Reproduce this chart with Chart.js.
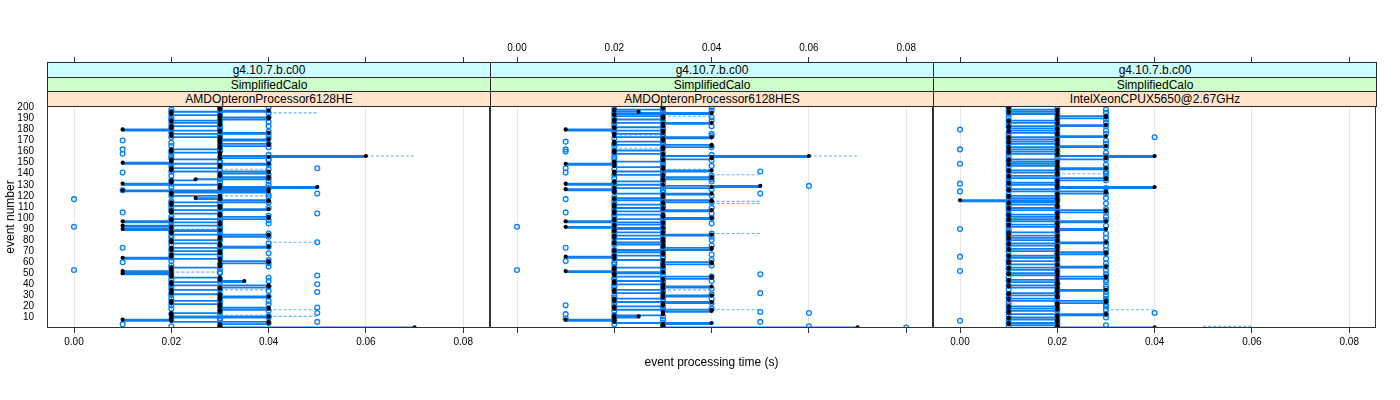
<!DOCTYPE html>
<html>
<head>
<meta charset="utf-8">
<script src="https://cdn.jsdelivr.net/npm/chart.js@4.4.1/dist/chart.umd.min.js"></script>
<style>
  body { margin: 0; background: #fff; width: 1400px; height: 400px; position: relative; overflow: hidden;
         font-family: 'Liberation Sans', Arial, sans-serif; }
  canvas { position: absolute; left: 0; top: 0; }
  .strip { position: absolute; box-sizing: border-box; border: 1px solid #2a2a2a; text-align: center;
           font-size: 12px; line-height: 14px; color: #000; white-space: nowrap; overflow: hidden; z-index: 5; }
  .s1 { background: #ccffff; }
  .s2 { background: #ccffcc; }
  .s3 { background: #ffe5cc; }
  #xtitle { position: absolute; left: 47px; width: 1329px; top: 355px; text-align: center; font-size: 12px; }
  #ytitle { position: absolute; left: -40px; top: 210px; width: 100px; text-align: center; font-size: 12px;
            transform: rotate(-90deg); }
</style>
</head>
<body>
<canvas id="p1" width="1400" height="400"></canvas>
<canvas id="p2" width="1400" height="400"></canvas>
<canvas id="p3" width="1400" height="400"></canvas>
<div id="xtitle">event processing time (s)</div>
<div id="ytitle">event number</div>
<script>
// tick labels
const xTicks = [0, 0.02, 0.04, 0.06, 0.08];
const yTicks = [10, 20, 30, 40, 50, 60, 70, 80, 90, 100, 110, 120, 130, 140, 150, 160, 170, 180, 190, 200];
const stripTop = 'g4.10.7.b.c00';
const stripMid = 'SimplifiedCalo';
const machines = ['AMDOpteronProcessor6128HE', 'AMDOpteronProcessor6128HES', 'IntelXeonCPUX5650@2.67GHz'];

// event times in ms, events 1..200 (black = first run with its step line, blue = second run)
const blackHE = [
  70,30,30,30,40,40,20,10,20,20, 40,20,20,20,30,30,30,40,40,30,
  30,30,20,20,20,30,30,30,40,30, 30,20,20,20,20,30,30,40,40,20,
  20,20,35,30,30,30,20,20,20,10, 20,10,20,20,20,30,30,30,30,40,
  40,30,30,10,20,20,20,30,30,30, 20,20,20,40,30,30,30,20,20,20,
  30,30,30,40,40,20,20,20,30,10, 20,20,10,30,30,30,10,20,20,40,
  40,30,30,30,20,20,20,40,30,30, 30,20,20,20,40,40,30,25,30,30,
  20,20,20,40,10,40,30,50,30,30, 10,20,20,20,25,40,40,30,30,30,
  40,40,20,20,20,30,30,30,40,10, 20,20,20,30,40,60,30,30,30,20,
  20,20,30,30,30,40,40,30,30,30, 40,30,30,20,20,20,40,30,30,10,
  20,20,20,30,30,30,20,20,30,40, 40,30,30,20,20,20,40,30,30,30
];
const blueHE = [
  30,20,30,10,40,50,30,20,30,40, 40,30,20,50,30,40,30,20,50,30,
  20,40,30,20,40,30,20,30,40,20, 30,20,50,40,30,20,30,40,20,50,
  20,30,40,20,30,40,20,50,20,30, 30,20,0,30,20,40,20,30,40,10,
  20,40,30,20,30,20,30,40,20,30, 30,20,10,40,30,20,40,50,20,30,
  30,20,40,20,30,40,20,30,20,30, 30,0,20,30,40,20,30,40,20,30,
  20,40,30,50,10,20,30,20,40,30, 20,30,20,40,20,30,0,30,40,20,
  40,50,30,20,10,30,40,20,30,40, 20,30,40,20,30,40,30,20,40,30,
  10,20,30,40,50,20,30,40,20,30, 30,40,40,20,30,20,40,10,20,30,
  20,10,30,40,20,30,40,20,30,10, 30,40,20,30,40,30,20,40,30,20,
  30,20,40,30,20,30,40,20,30,20, 40,30,20,30,40,20,30,20,30,40
];
// dashed segments: [event, from ms, to ms]
const dashHE = [[1,70,80],[11,40,50],[12,30,40],[17,40,50],[35,30,40],[51,20,30],[78,40,50],
  [90,20,30],[120,30,40],[144,30,40],[156,60,70],[162,20,30],[176,30,40],[191,30,40],[195,40,50]];

const blackHES = [
  70,30,30,30,40,20,20,10,20,20, 25,20,30,30,30,40,40,20,20,20,
  30,30,30,40,20,20,20,30,30,40, 30,30,20,20,20,30,30,40,30,30,
  20,20,20,30,30,40,40,20,20,20, 30,10,20,20,20,30,30,30,40,40,
  30,30,20,20,10,20,30,30,30,20, 20,40,40,30,30,30,20,20,30,30,
  30,20,20,20,40,30,30,20,20,20, 30,10,20,20,30,30,10,20,20,40,
  30,30,30,20,20,20,40,30,30,20, 20,20,30,30,40,40,20,20,30,30,
  30,40,20,20,20,10,20,40,50,30, 10,20,20,30,30,40,40,30,30,20,
  20,20,40,30,30,30,20,20,10,20, 20,30,30,40,40,60,30,30,20,20,
  20,30,30,30,40,40,20,20,20,30, 30,30,40,20,20,20,30,30,30,10,
  20,20,30,30,30,40,20,20,20,30, 30,30,20,20,40,25,20,20,30,30
];
const blueHES = [
  80,60,30,20,30,50,20,30,10,20, 30,20,10,60,50,20,30,40,20,30,
  10,20,40,30,20,30,40,20,30,20, 40,50,30,20,30,40,20,30,20,30,
  20,30,40,20,30,20,40,30,50,20, 30,20,0,30,20,30,40,20,30,20,
  10,40,30,20,30,20,40,30,20,30, 20,30,10,30,40,20,30,20,30,40,
  30,20,40,30,20,40,20,30,20,30, 30,0,20,30,40,20,30,20,30,40,
  20,30,20,40,10,20,30,20,40,30, 20,30,20,40,30,20,10,30,20,40,
  30,50,30,20,30,40,20,30,60,20, 30,20,40,30,40,20,30,40,20,30,
  10,50,30,20,10,30,40,20,30,20, 30,40,20,30,20,30,40,20,30,10,
  20,10,30,40,20,30,20,30,10,30, 30,20,30,40,30,40,20,30,20,30,
  30,20,40,30,20,30,20,40,30,20, 40,30,20,30,20,30,40,20,30,40
];
const dashHES = [[17,40,50],[35,30,40],[60,30,40],[86,40,50],[113,40,50],[115,40,50],[139,40,50],
  [144,30,40],[156,60,70],[163,20,30],[175,20,30],[192,30,40]];

const blackXeon = [
  40,20,20,10,10,20,20,20,10,10, 20,20,30,10,10,10,20,20,10,10,
  20,20,20,30,30,10,10,20,20,20, 10,10,20,20,30,20,20,10,10,20,
  20,20,10,10,20,30,30,20,10,10, 20,20,20,10,10,30,20,20,10,10,
  10,20,20,20,10,10,20,30,30,20, 10,10,20,20,20,10,10,30,20,20,
  10,10,20,20,10,10,10,20,20,30, 20,20,10,10,20,20,30,10,10,20,
  20,10,10,20,20,30,30,10,10,20, 20,20,10,10,20,0,20,20,10,10,
  20,20,30,30,10,10,20,40,20,20, 10,10,20,20,30,30,10,10,20,20,
  20,10,10,20,30,20,20,10,10,20, 20,10,10,30,30,40,20,20,10,10,
  20,20,10,10,30,20,20,10,10,20, 20,10,10,30,20,20,20,10,10,20,
  20,10,10,30,20,20,10,10,20,20, 30,30,20,20,10,10,20,20,10,10
];
const blueXeon = [
  20,10,30,20,10,20,0,10,20,30, 20,10,30,40,10,20,30,10,20,30,
  10,30,20,10,30,20,30,10,20,30, 10,20,30,20,10,30,20,30,10,20,
  20,30,10,30,20,10,30,20,30,10, 20,0,30,10,20,30,10,20,30,10,
  20,10,30,20,0,10,20,30,20,10, 30,20,10,20,30,10,20,30,10,20,
  10,30,20,10,20,30,10,20,10,0, 20,10,30,20,10,20,10,30,10,20,
  30,10,20,10,30,20,10,30,20,10, 20,10,30,10,20,10,20,30,10,20,
  10,30,20,0,10,20,30,10,20,10, 0,20,10,30,20,10,30,20,10,30,
  20,30,10,20,30,10,20,30,0,10, 20,10,30,20,10,30,20,10,30,20,
  10,0,20,30,10,20,30,10,20,30, 10,20,40,10,20,30,10,20,30,0,
  20,10,30,20,10,30,20,10,30,20, 10,30,20,10,30,20,10,30,20,10
];
const dashXeon = [[2,50,60],[17,30,40],[92,10,20],[140,20,30]];

const panelLeft = [47, 490, 933];
const panelRight = [490, 933, 1376];

Chart.defaults.font.family = "'Liberation Sans', Arial, sans-serif";
Chart.defaults.font.size = 10;
Chart.defaults.color = '#000';

const framePlugin = {
  id: 'frame',
  afterDraw(chart) {
    const a = chart.chartArea, c = chart.ctx;
    c.save();
    c.strokeStyle = '#333';
    c.lineWidth = 1;
    c.strokeRect(a.left + 0.5, a.top + 0.5, a.right - a.left - 1, a.bottom - a.top - 1);
    c.restore();
  }
};

function drawPanel(idx, black, blue, dash) {
  const left = panelLeft[idx], right = panelRight[idx];
  const datasets = [];
  // black points + solid step line on top, blue circles under them
  datasets.push({
    data: black.map((v, i) => ({ x: v / 1000, y: i + 1 })),
    showLine: true, stepped: true, borderColor: '#0a7ff5', borderWidth: 1.8,
    pointRadius: 2.1, pointBorderWidth: 0, pointBackgroundColor: '#000', order: 0
  });
  datasets.push({
    data: blue.map((v, i) => ({ x: v / 1000, y: i + 1 })),
    showLine: false, pointRadius: 2.4, pointBorderWidth: 1.3,
    pointBorderColor: '#0080ff', pointBackgroundColor: 'rgba(0,0,0,0)', order: 1
  });
  dash.forEach(d => datasets.push({
    data: [{ x: d[1] / 1000, y: d[0] }, { x: d[2] / 1000, y: d[0] }],
    showLine: true, borderColor: 'rgba(0,128,255,0.6)', borderDash: [3, 2], borderWidth: 1.1,
    pointRadius: 0, order: 2
  }));

  new Chart(document.getElementById('p' + (idx + 1)), {
    type: 'line',
    data: { datasets },
    options: {
      responsive: false, animation: false, events: [],
      layout: { padding: { left: left - 47, right: 1400 - right, top: 42, bottom: 42 } },
      plugins: { legend: { display: false }, tooltip: { enabled: false } },
      scales: {
        x: {
          type: 'linear', position: 'bottom', min: -0.00555, max: 0.0855,
          afterBuildTicks: s => { s.ticks = xTicks.map(v => ({ value: v })); },
          afterFit: s => { s.height = 30; },
          ticks: { display: idx !== 1, padding: 3, autoSkip: false, callback: v => v.toFixed(2) },
          grid: { color: '#e6e6e6', tickColor: '#333', tickLength: 5 },
          border: { display: false }
        },
        x2: {
          type: 'linear', position: 'top', min: -0.00555, max: 0.0855,
          afterBuildTicks: s => { s.ticks = xTicks.map(v => ({ value: v })); },
          afterFit: s => { s.height = 20; },
          ticks: { display: idx === 1, padding: 3, autoSkip: false, callback: v => v.toFixed(2) },
          grid: { drawOnChartArea: false, tickColor: '#333', tickLength: 5 },
          border: { display: false }
        },
        y: {
          type: 'linear', display: idx === 0, min: 0.5, max: 241,
          afterBuildTicks: s => { s.ticks = yTicks.map(v => ({ value: v })); },
          afterFit: s => { s.width = 47; },
          ticks: { padding: 5, autoSkip: false },
          grid: { display: false },
          border: { display: false }
        }
      }
    },
    plugins: [framePlugin]
  });

  // strips
  const labels = [stripTop, stripMid, machines[idx]];
  const tops = [62, 77, 91], heights = [16, 15, 16];
  labels.forEach((t, k) => {
    const d = document.createElement('div');
    d.className = 'strip s' + (k + 1);
    d.style.left = left + 'px';
    d.style.width = (right - left + 1) + 'px';
    d.style.top = tops[k] + 'px';
    d.style.height = heights[k] + 'px';
    d.textContent = t;
    document.body.appendChild(d);
  });
}

drawPanel(0, blackHE, blueHE, dashHE);
drawPanel(1, blackHES, blueHES, dashHES);
drawPanel(2, blackXeon, blueXeon, dashXeon);
</script>
</body>
</html>
